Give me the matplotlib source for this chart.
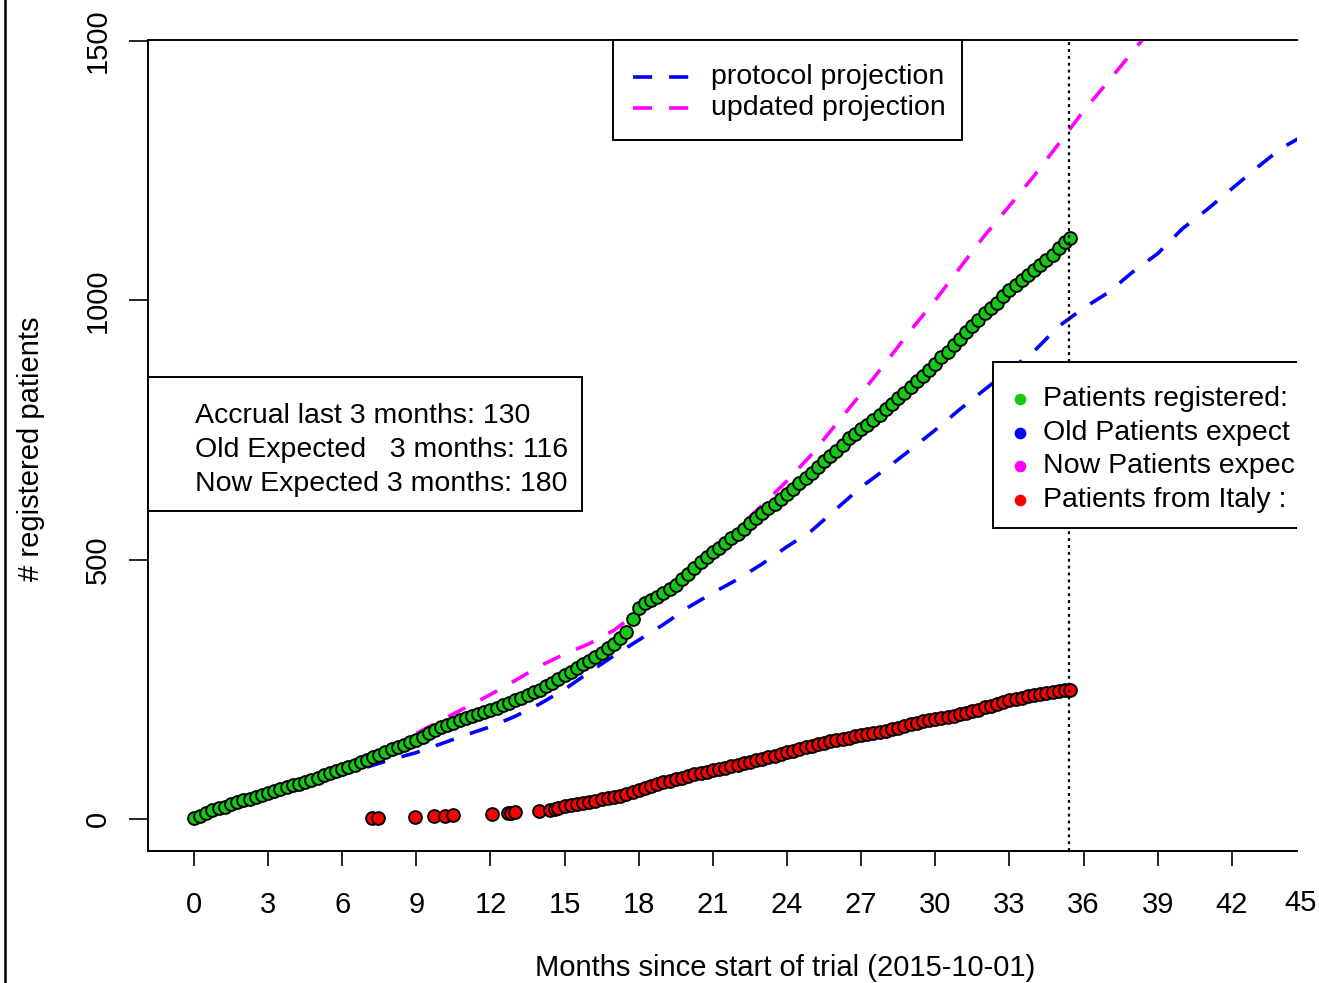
import numpy as np
import matplotlib
matplotlib.use("Agg")
import matplotlib.pyplot as plt
from matplotlib import font_manager
from matplotlib.lines import Line2D
from matplotlib.patches import Rectangle

# ---------------- data ----------------
green_months = [0, 0.25, 0.5, 0.75, 1, 1.25, 1.5, 1.75, 2, 2.25, 2.5, 2.75, 3, 3.25, 3.5, 3.75,
                4, 4.25, 4.5, 4.75, 5, 5.25, 5.5, 5.75, 6, 6.25, 6.5, 6.75, 7, 7.25, 7.5, 7.75,
                8, 8.25, 8.5, 8.75, 9, 9.25, 9.5, 9.75, 10, 10.25, 10.5, 10.75, 11, 11.25, 11.5, 11.75,
                12, 12.25, 12.5, 12.75, 13, 13.25, 13.5, 13.75, 14, 14.25, 14.5, 14.75, 15, 15.25, 15.5, 15.75,
                16, 16.25, 16.5, 16.75, 17, 17.25, 17.5, 17.75, 18, 18.25, 18.5, 18.75, 19, 19.25, 19.5, 19.75,
                20, 20.25, 20.5, 20.75, 21, 21.25, 21.5, 21.75, 22, 22.25, 22.5, 22.75, 23, 23.25, 23.5, 23.75,
                24, 24.25, 24.5, 24.75, 25, 25.25, 25.5, 25.75, 26, 26.25, 26.5, 26.75, 27, 27.25, 27.5, 27.75,
                28, 28.25, 28.5, 28.75, 29, 29.25, 29.5, 29.75, 30, 30.25, 30.5, 30.75, 31, 31.25, 31.5, 31.75,
                32, 32.25, 32.5, 32.75, 33, 33.25, 33.5, 33.75, 34, 34.25, 34.5, 34.75, 35, 35.25, 35.45]
green_values = [1, 6, 12, 17, 21, 24, 28, 32, 36, 39, 43, 47, 51, 54, 57, 61,
                65, 68, 72, 76, 80, 85, 89, 93, 97, 101, 105, 110, 114, 119, 124, 129,
                134, 139, 143, 148, 153, 159, 165, 171, 177, 182, 186, 190, 194, 198, 202, 206,
                210, 214, 219, 224, 229, 234, 239, 244, 249, 256, 263, 270, 277, 284, 291, 298,
                305, 313, 321, 329, 338, 348, 360, 385, 406, 416, 422, 428, 436, 444, 452, 462,
                473, 484, 495, 505, 515, 523, 532, 541, 550, 560, 570, 580, 590, 599, 608, 617,
                626, 636, 647, 657, 668, 679, 690, 700, 710, 722, 734, 743, 752, 760, 769, 779,
                790, 801, 811, 822, 833, 844, 855, 866, 878, 890, 901, 913, 925, 938, 950, 963,
                975, 986, 995, 1008, 1020, 1030, 1039, 1048, 1058, 1068, 1078, 1088, 1100, 1112, 1120]

italy_months = [7.2, 7.45, 8.95, 9.7, 10.15, 10.5, 12.05, 12.7, 12.85, 13.0, 13.95, 14.4, 14.6,
                14.75, 15, 15.25, 15.5, 15.75, 16, 16.25, 16.5, 16.75, 17, 17.25, 17.5, 17.75,
                18, 18.25, 18.5, 18.75, 19, 19.25, 19.5, 19.75, 20, 20.25, 20.5, 20.75,
                21, 21.25, 21.5, 21.75, 22, 22.25, 22.5, 22.75, 23, 23.25, 23.5, 23.75,
                24, 24.25, 24.5, 24.75, 25, 25.25, 25.5, 25.75, 26, 26.25, 26.5, 26.75,
                27, 27.25, 27.5, 27.75, 28, 28.25, 28.5, 28.75, 29, 29.25, 29.5, 29.75,
                30, 30.25, 30.5, 30.75, 31, 31.25, 31.5, 31.75, 32, 32.25, 32.5, 32.75,
                33, 33.25, 33.5, 33.75, 34, 34.25, 34.5, 34.75, 35, 35.25, 35.45]
italy_values = [1, 2, 3, 5, 6, 7, 9, 11, 12, 13, 16, 18, 20,
                22, 25, 27, 29, 31, 33, 35, 38, 40, 42, 45, 49, 52,
                56, 60, 64, 67, 71, 74, 77, 80, 83, 86, 89, 91,
                94, 97, 99, 102, 104, 107, 110, 113, 116, 119, 122, 126,
                129, 132, 135, 138, 141, 144, 147, 150, 152, 155, 157, 160,
                162, 164, 166, 168, 170, 173, 176, 180, 183, 186, 189, 191,
                193, 195, 197, 199, 202, 205, 208, 211, 215, 218, 222, 225,
                229, 232, 234, 237, 239, 241, 243, 245, 247, 248, 249]

protocol_months = list(range(0, 46))
protocol_values = [0, 12, 25, 40, 55, 70, 85, 100, 115, 128, 145, 162, 178, 198, 222, 250,
                   283, 315, 345, 375, 408, 436, 462, 492, 525, 556, 598, 640, 675, 712,
                   750, 790, 828, 865, 902, 950, 985, 1015, 1055, 1090, 1138, 1175, 1215,
                   1255, 1293, 1320]

updated_months = [9, 10, 11, 12, 13, 14, 15, 16, 17, 18, 19, 20, 21, 22, 23, 24, 25, 26, 27,
                  28, 29, 30, 31, 32, 33, 34, 35, 36, 37, 38, 39]
updated_values = [165, 190, 215, 240, 267, 295, 318, 338, 364, 400, 440, 478, 520, 560, 605,
                  652, 703, 762, 820, 880, 942, 1000, 1063, 1125, 1182, 1240, 1302, 1365,
                  1422, 1480, 1538]

data_cutoff = 35.43
x_ticks = [0, 3, 6, 9, 12, 15, 18, 21, 24, 27, 30, 33, 36, 39, 42]
x_last_tick = 45
y_ticks = [0, 500, 1000, 1500]

legend_lines = ["protocol projection", "updated projection"]
info_lines = ["Accrual last 3 months: 130",
              "Old Expected   3 months: 116",
              "Now Expected 3 months: 180"]
# the right-hand legend is cut by the image edge in the reference
legend_points = ["Patients registered:",
                 "Old Patients expect",
                 "Now Patients expec",
                 "Patients from Italy :"]

# ---------------- fonts ----------------
names = {f.name for f in font_manager.fontManager.ttflist}
narrow = "Liberation Sans Narrow" if "Liberation Sans Narrow" in names else "Liberation Sans"
regular = "Liberation Sans"
plt.rcParams["font.family"] = [regular, "DejaVu Sans"]

W, H = 1319, 983
DPI = 100
fig = plt.figure(figsize=(W / DPI, H / DPI), dpi=DPI)

def fx(px):
    return px / W
def fy(py):
    return 1 - py / H

# axes position in pixels
L, R, T, B = 148, 1297, 40, 851
ax = fig.add_axes([L / W, 1 - B / H, (R - L) / W, (B - T) / H])
ax.set_xlim(-1.86, 44.64)
ax.set_ylim(-61.7, 1501.9)

GREEN = "#16c816"
BLUE = "#0000ff"
MAG = "#ff00ff"
RED = "#ff0000"

dash = (0, (5.3, 4.7))
ax.plot(protocol_months, protocol_values, color=BLUE, lw=2.6, linestyle=dash, zorder=2)
ax.plot(updated_months, updated_values, color=MAG, lw=2.6, linestyle=dash, zorder=2)

ax.plot(green_months, green_values, linestyle="none", marker="o", ms=9.2,
        mfc=GREEN, mec="black", mew=1.4, zorder=3)
ax.plot(italy_months, italy_values, linestyle="none", marker="o", ms=9.2,
        mfc=RED, mec="black", mew=1.4, zorder=3)

ax.axvline(data_cutoff, color="black", lw=1.6, linestyle=(0, (1.3, 1.8)), zorder=4)

for s in ["left", "top", "bottom"]:
    ax.spines[s].set_linewidth(1.4)
    ax.spines[s].set_color("black")
ax.spines["right"].set_visible(False)

TICK = 21
tick_font = dict(family=[narrow, "DejaVu Sans"], size=TICK)
ax.set_xticks(x_ticks)
ax.set_xticklabels([str(t) for t in x_ticks], fontdict=tick_font)
ax.set_yticks(y_ticks)
ax.set_yticklabels([str(t) for t in y_ticks], fontdict=tick_font, rotation=90, va="center")
ax.tick_params(axis="x", length=11, width=1.2, pad=18, colors="black")
ax.tick_params(axis="y", length=14, width=1.2, pad=12, colors="black")

# last tick label (45), at the image edge; nudged so it stays inside the picture
ax.annotate(str(x_last_tick), xy=(x_last_tick, 0), xycoords=("data", "axes fraction"),
            xytext=(-5 * 72 / DPI, -(903 - 851) * 72 / DPI), textcoords="offset points",
            ha="center", va="center", fontsize=TICK, family=[narrow, "DejaVu Sans"],
            annotation_clip=False)

fig.text(fx(785), fy(968), "Months since start of trial (2015-10-01)",
         ha="center", va="center", family=[narrow, "DejaVu Sans"], size=TICK)
fig.text(fx(31), fy(449), "# registered patients", rotation=90,
         ha="center", va="center", family=[narrow, "DejaVu Sans"], size=TICK)

TXT = 20.5

# top legend (line legend)
fig.add_artist(Rectangle((fx(613), fy(140)), fx(962) - fx(613), fy(40) - fy(140),
                         fill=True, facecolor="white", edgecolor="black", lw=1.4, zorder=5))
for i, (lab, col) in enumerate(zip(legend_lines, [BLUE, MAG])):
    yy = fy(77 + 31 * i)
    fig.add_artist(Line2D([fx(633), fx(690)], [yy, yy], color=col, lw=2.6,
                          linestyle=(0, (5.3, 4.7)), zorder=6))
    fig.text(fx(711), yy, lab, ha="left", va="center", size=TXT, zorder=6)

# info box
fig.add_artist(Rectangle((fx(148), fy(511)), fx(582) - fx(148), fy(377) - fy(511),
                         fill=True, facecolor="white", edgecolor="black", lw=1.4, zorder=5))
for i, lab in enumerate(info_lines):
    fig.text(fx(195), fy(416 + 34 * i), lab, ha="left", va="center", size=TXT, zorder=6)

# point legend (right, clipped at axes edge)
box = Rectangle((fx(993), fy(528)), fx(1400) - fx(993), fy(362) - fy(528),
                transform=fig.transFigure, fill=True, facecolor="white",
                edgecolor="black", lw=1.4, zorder=5)
ax.add_artist(box)
box.set_clip_path(ax.patch)
for i, (lab, col) in enumerate(zip(legend_points, [GREEN, BLUE, MAG, RED])):
    yy = fy(399 + 33.7 * i)
    ln = Line2D([fx(1020)], [yy], transform=fig.transFigure, marker="o", ms=7.4,
                mfc=col, mec=col, linestyle="none", zorder=6)
    ax.add_artist(ln)
    t = ax.text(fx(1043), yy, lab, transform=fig.transFigure, ha="left", va="center",
                size=TXT, zorder=6)
    t.set_clip_path(ax.patch)

# left frame line
fig.add_artist(Line2D([fx(5), fx(5)], [0, 1], color="black", lw=1.8))

fig.savefig("out.png", dpi=DPI)
